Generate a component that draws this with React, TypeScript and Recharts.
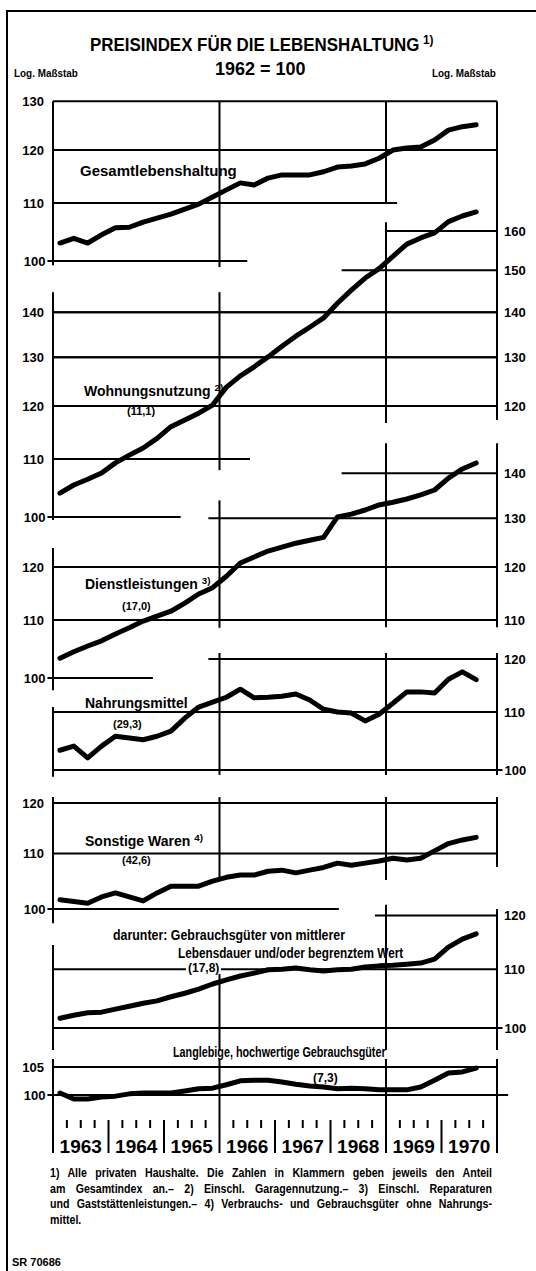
import React from "react";
import { ComposedChart, Line, XAxis, YAxis, ReferenceLine } from "recharts";

const FONT = "'Liberation Sans', Arial, sans-serif";

// quarter midpoints, 1963 I .. 1970 III
const quarters = [
  1963.125, 1963.375, 1963.625, 1963.875,
  1964.125, 1964.375, 1964.625, 1964.875,
  1965.125, 1965.375, 1965.625, 1965.875,
  1966.125, 1966.375, 1966.625, 1966.875,
  1967.125, 1967.375, 1967.625, 1967.875,
  1968.125, 1968.375, 1968.625, 1968.875,
  1969.125, 1969.375, 1969.625, 1969.875,
  1970.125, 1970.375, 1970.625,
];

const years = [1963, 1964, 1965, 1966, 1967, 1968, 1969, 1970];

const gesamt = [103.0, 103.8, 103.0, 104.4, 105.6, 105.7, 106.6, 107.3, 108.0, 108.9, 109.8, 111.1, 112.4, 113.7, 113.3, 114.6, 115.2, 115.2, 115.2, 115.8, 116.7, 116.9, 117.3, 118.4, 120.0, 120.4, 120.6, 122.0, 124.0, 124.7, 125.1];
const wohnung = [104.0, 105.4, 106.4, 107.5, 109.3, 110.7, 112.0, 113.8, 116.0, 117.3, 118.6, 120.2, 123.8, 126.1, 128.0, 130.1, 132.4, 134.6, 136.6, 138.7, 142.1, 145.2, 148.1, 150.4, 153.5, 156.6, 158.2, 159.5, 162.5, 164.0, 165.1];
const dienst = [103.3, 104.4, 105.4, 106.3, 107.5, 108.6, 109.8, 110.7, 111.6, 113.1, 114.8, 116.0, 118.2, 120.8, 122.0, 123.2, 124.0, 124.8, 125.4, 126.0, 130.3, 130.9, 131.8, 132.9, 133.5, 134.2, 135.1, 136.2, 138.9, 141.0, 142.4];
const nahrung = [103.3, 104.0, 102.0, 104.0, 105.7, 105.4, 105.1, 105.7, 106.6, 108.9, 110.9, 111.8, 112.7, 114.2, 112.6, 112.7, 112.9, 113.3, 112.2, 110.5, 110.0, 109.8, 108.4, 109.6, 111.6, 113.7, 113.7, 113.5, 116.1, 117.5, 116.0];
const sonstige = [101.6, 101.3, 101.0, 102.1, 102.8, 102.1, 101.4, 102.8, 104.0, 104.0, 104.0, 104.9, 105.6, 106.0, 106.0, 106.7, 106.9, 106.4, 106.9, 107.4, 108.2, 107.8, 108.2, 108.6, 109.1, 108.8, 109.1, 110.5, 111.9, 112.6, 113.1];
const mittlere = [101.6, 102.1, 102.5, 102.6, 103.1, 103.6, 104.1, 104.5, 105.2, 105.8, 106.5, 107.4, 108.1, 108.8, 109.3, 109.9, 110.0, 110.2, 109.9, 109.7, 109.9, 110.0, 110.4, 110.6, 110.7, 110.9, 111.1, 111.8, 114.0, 115.5, 116.5];
const langlebige = [100.35, 99.3, 99.3, 99.65, 99.8, 100.2, 100.35, 100.35, 100.35, 100.7, 101.1, 101.2, 101.8, 102.5, 102.6, 102.6, 102.3, 101.9, 101.6, 101.4, 101.1, 101.2, 101.1, 100.9, 100.9, 100.9, 101.4, 102.6, 103.9, 104.1, 104.8];

const data = quarters.map((q, i) => ({
  q,
  gesamt: gesamt[i],
  wohnung: wohnung[i],
  dienst: dienst[i],
  nahrung: nahrung[i],
  sonstige: sonstige[i],
  mittlere: mittlere[i],
  langlebige: langlebige[i],
}));

// every panel is its own log axis stacked in one plot area
const TOP = 90;
const BOTTOM = 1120;
const logDomain = (base: number, k: number) => [
  100 * Math.pow(10, (base - BOTTOM) / k),
  100 * Math.pow(10, (base - TOP) / k),
];
const axes = [
  { id: "p1", domain: logDomain(261, 1401) },
  { id: "p2", domain: logDomain(517, 1401) },
  { id: "p3", domain: logDomain(678, 1401) },
  { id: "p4", domain: logDomain(770, 1401) },
  { id: "p5", domain: logDomain(909, 1340) },
  { id: "p6", domain: logDomain(1028, 1420) },
  { id: "p7", domain: logDomain(1095, 1320) },
];

const series = [
  { key: "gesamt", axis: "p1" },
  { key: "wohnung", axis: "p2" },
  { key: "dienst", axis: "p3" },
  { key: "nahrung", axis: "p4" },
  { key: "sonstige", axis: "p5" },
  { key: "mittlere", axis: "p6" },
  { key: "langlebige", axis: "p7" },
];

// horizontal rules: axis, value, from year, to year, label side, label offset
type H = [string, number, number, number, string, number?];
const hLines: H[] = [
  ["p1", 130, 1963, 1971, "L"],
  ["p1", 120, 1963, 1971, "L"],
  ["p1", 110, 1963, 1969.2, "L"],
  ["p1", 100, 1962.9, 1966.5, "L", 2],
  ["p2", 160, 1969, 1971, "R"],
  ["p2", 150, 1968.2, 1971, "R"],
  ["p2", 140, 1963, 1971, "LR"],
  ["p2", 130, 1963, 1971, "LR"],
  ["p2", 120, 1963, 1971, "LR"],
  ["p2", 110, 1963, 1966.55, "L"],
  ["p2", 100, 1962.9, 1965.3, "L", 2],
  ["p3", 140, 1968.2, 1971, "R"],
  ["p3", 130, 1965.8, 1971, "R"],
  ["p3", 120, 1963, 1971, "LR"],
  ["p3", 110, 1963, 1971, "LR"],
  ["p3", 100, 1962.9, 1964.8, "L", 2],
  ["p4", 120, 1965.8, 1971, "R"],
  ["p4", 110, 1963, 1971, "R"],
  ["p4", 100, 1963, 1971.1, "R", 2],
  ["p5", 120, 1963, 1971, "L"],
  ["p5", 110, 1963, 1971, "L"],
  ["p5", 100, 1962.9, 1968.15, "L", 2],
  ["p6", 120, 1968.8, 1971, "R"],
  ["p6", 110, 1963, 1971, "R"],
  ["p6", 100, 1963, 1971.1, "R", 2],
  ["p7", 105, 1963, 1971, "L"],
  ["p7", 100, 1962.9, 1971.2, "L", 2],
];

// vertical rules: axis, year, from value, to value
const vLines: [string, number, number, number][] = [
  ["p1", 1963, 99.3, 130],
  ["p1", 1966, 99.0, 130],
  ["p1", 1969, 110, 130],
  ["p1", 1971, 77.0, 130],
  ["p2", 1963, 99.5, 144.7],
  ["p2", 1966, 108.0, 144.7],
  ["p2", 1969, 116.7, 162.3],
  ["p3", 1963, 98.0, 123.8],
  ["p3", 1966, 108.6, 133.9],
  ["p3", 1969, 108.7, 147.1],
  ["p3", 1971, 108.7, 147.1],
  ["p4", 1963, 98.9, 110.9],
  ["p4", 1966, 99.2, 121.2],
  ["p4", 1969, 99.2, 121.2],
  ["p4", 1971, 99.2, 121.2],
  ["p5", 1963, 97.6, 121.2],
  ["p5", 1966, 105.1, 121.2],
  ["p5", 1969, 105.1, 121.2],
  ["p5", 1971, 107.5, 121.2],
  ["p6", 1963, 96.5, 114.4],
  ["p6", 1966, 96.5, 109.9],
  ["p6", 1969, 96.5, 122.1],
  ["p6", 1971, 96.5, 121.3],
  ["p7", 1963, 95.7, 106.5],
  ["p7", 1966, 95.7, 106.5],
  ["p7", 1969, 95.7, 106.5],
  ["p7", 1971, 95.7, 106.5],
];

const xTicks = years.flatMap((y) => [y, y + 0.25, y + 0.5, y + 0.75]).concat(1971);

const labelStyle = { fill: "#000", fontSize: 13, fontWeight: 700, fontFamily: FONT };

function YearTick(props: any) {
  const { x, y, payload } = props;
  const v = payload.value as number;
  const frac = v - Math.floor(v);
  if (frac === 0) {
    return <line x1={x} x2={x} y1={y} y2={y + 33} stroke="#000" strokeWidth={2} />;
  }
  return (
    <g>
      <line x1={x} x2={x} y1={y} y2={y + 8} stroke="#000" strokeWidth={2} />
      {frac === 0.5 && (
        <text x={x} y={y + 33} textAnchor="middle" fontSize={19} fontWeight={700} fontFamily={FONT} fill="#000">
          {Math.floor(v)}
        </text>
      )}
    </g>
  );
}

function Txt({ x, y, size = 14, sx = 1, children, bg }: { x: number; y: number; size?: number; sx?: number; children: React.ReactNode; bg?: boolean }) {
  return (
    <div
      style={{
        position: "absolute",
        left: x,
        top: y - size / 2,
        fontSize: size,
        lineHeight: 1,
        fontWeight: 700,
        fontFamily: FONT,
        whiteSpace: "nowrap",
        transform: `scaleX(${sx})`,
        transformOrigin: "left center",
        background: bg ? "#fff" : "transparent",
        padding: bg ? "0 2px" : 0,
      }}
    >
      {children}
    </div>
  );
}

const Sup = ({ children }: { children: React.ReactNode }) => (
  <sup style={{ fontSize: "0.7em", verticalAlign: "0.55em", marginLeft: 4 }}>{children}</sup>
);

const footnotes = [
  "1) Alle privaten Haushalte. Die Zahlen in Klammern geben jeweils den Anteil",
  "am Gesamtindex an.– 2) Einschl. Garagennutzung.– 3) Einschl. Reparaturen",
  "und Gaststättenleistungen.– 4) Verbrauchs- und Gebrauchsgüter ohne Nahrungs-",
  "mittel.",
];

export default function App() {
  return (
    <div style={{ position: "absolute", left: 0, top: 0, width: 536, height: 1271, background: "#fff", overflow: "hidden" }}>
      <div style={{ position: "absolute", left: 6, top: 10, width: 540, height: 1280, borderTop: "2px solid #000", borderLeft: "2px solid #000" }} />
      <ComposedChart
        width={536}
        height={1271}
        data={data}
        margin={{ top: TOP, right: 39, bottom: 111, left: 53 }}
        style={{ position: "absolute", left: 0, top: 0 }}
      >
        <XAxis
          dataKey="q"
          type="number"
          domain={[1963, 1971]}
          ticks={xTicks}
          interval={0}
          axisLine={false}
          tickLine={false}
          tickSize={0}
          tickMargin={0}
          height={40}
          tick={<YearTick />}
        />
        {axes.map((a) => (
          <YAxis key={a.id} yAxisId={a.id} hide scale="log" type="number" domain={a.domain} allowDataOverflow />
        ))}
        {hLines.flatMap(([ax, v, x1, x2, side, off]) => {
          const seg = [{ x: x1, y: v }, { x: x2, y: v }];
          const out = [];
          if (side.includes("L"))
            out.push(
              <ReferenceLine key={`${ax}-${v}-L`} yAxisId={ax} segment={seg} stroke="#000" strokeWidth={2} ifOverflow="visible"
                label={{ value: String(v), position: "left", offset: off ?? 9, ...labelStyle }} />
            );
          if (side.includes("R"))
            out.push(
              <ReferenceLine key={`${ax}-${v}-R`} yAxisId={ax} segment={seg} stroke="#000" strokeWidth={2} ifOverflow="visible"
                label={{ value: String(v), position: "right", offset: off ?? 7, ...labelStyle }} />
            );
          return out;
        })}
        {vLines.map(([ax, x, v1, v2]) => (
          <ReferenceLine key={`${ax}-v-${x}`} yAxisId={ax} segment={[{ x, y: v1 }, { x, y: v2 }]} stroke="#000" strokeWidth={2} ifOverflow="visible" />
        ))}
        {series.map((s) => (
          <Line key={s.key} yAxisId={s.axis} dataKey={s.key} type="linear" stroke="#000" strokeWidth={5}
            strokeLinejoin="round" strokeLinecap="round" dot={false} isAnimationActive={false} />
        ))}
      </ComposedChart>

      <Txt x={90} y={42} size={19} sx={0.89}>PREISINDEX FÜR DIE LEBENSHALTUNG<Sup>1)</Sup></Txt>
      <Txt x={215} y={69} size={18}>1962 = 100</Txt>
      <Txt x={14} y={73} size={11} sx={0.9}>Log. Maßstab</Txt>
      <Txt x={432} y={73} size={11} sx={0.9}>Log. Maßstab</Txt>

      <Txt x={80} y={170} size={15}>Gesamtlebenshaltung</Txt>
      <Txt x={84} y={390} size={14}>Wohnungsnutzung<Sup>2)</Sup></Txt>
      <Txt x={127} y={411} size={11}>(11,1)</Txt>
      <Txt x={85} y={583} size={14}>Dienstleistungen<Sup>3)</Sup></Txt>
      <Txt x={122} y={606} size={11}>(17,0)</Txt>
      <Txt x={85} y={703} size={14}>Nahrungsmittel</Txt>
      <Txt x={113} y={724} size={11}>(29,3)</Txt>
      <Txt x={85} y={840} size={14}>Sonstige Waren<Sup>4)</Sup></Txt>
      <Txt x={122} y={860} size={11}>(42,6)</Txt>
      <Txt x={113} y={935} size={14} sx={0.885}>darunter: Gebrauchsgüter von mittlerer</Txt>
      <Txt x={178} y={953} size={14} sx={0.84}>Lebensdauer und/oder begrenztem Wert</Txt>
      <Txt x={186} y={968} size={12} bg>(17,8)</Txt>
      <Txt x={173} y={1052} size={14} sx={0.77}>Langlebige, hochwertige Gebrauchsgüter</Txt>
      <Txt x={313} y={1078} size={12}>(7,3)</Txt>

      <div style={{ position: "absolute", left: 50, top: 1166, width: 520, transform: "scaleX(0.85)", transformOrigin: "left top", fontFamily: FONT, fontWeight: 700, fontSize: 12.5, lineHeight: "15.5px" }}>
        {footnotes.map((f, i) => (
          <div key={i} style={{ textAlign: i < 3 ? "justify" : "left", textAlignLast: i < 3 ? "justify" : "left", whiteSpace: "nowrap" }}>{f}</div>
        ))}
      </div>
      <Txt x={12} y={1262} size={11}>SR 70686</Txt>
    </div>
  );
}
